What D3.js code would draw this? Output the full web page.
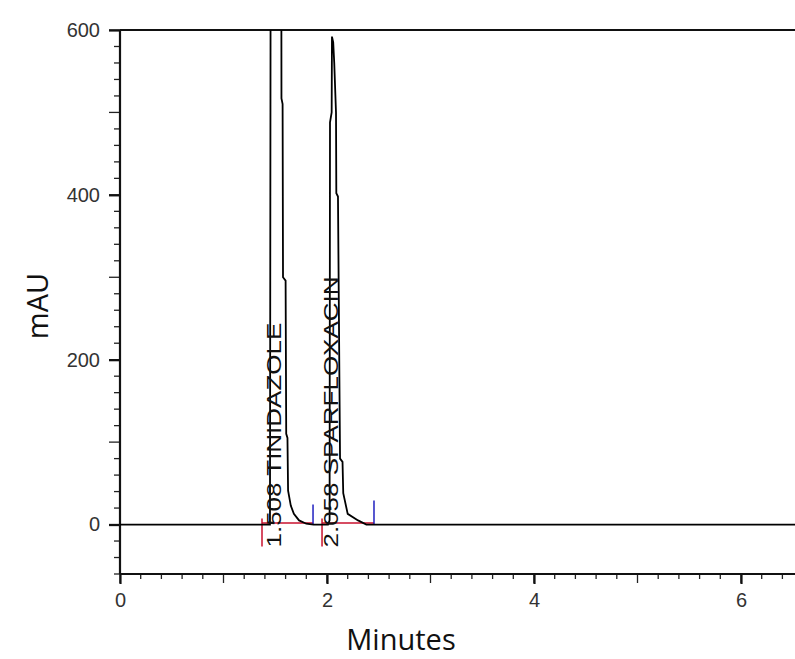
<!DOCTYPE html>
<html>
<head>
<meta charset="utf-8">
<script src="https://cdn.jsdelivr.net/npm/d3@7"></script>
<style>
  body { margin: 0; background: #fff; }
</style>
</head>
<body>
<div id="chart"></div>
<script>
// chromatogram trace (minutes, mAU)
var traceTime = [0, 1.449, 1.462, 1.508, 1.553, 1.560, 1.571, 1.575, 1.600, 1.606, 1.618, 1.624, 1.65, 1.68, 1.73, 1.80, 1.87,
  2.010, 2.025, 2.029, 2.045, 2.048, 2.060, 2.070, 2.087, 2.090, 2.106, 2.126, 2.150, 2.157, 2.20, 2.30, 2.38, 6.6];
var traceMAU = [0, 0, 1400, 2000, 1400, 517, 510, 300, 296, 110, 105, 41, 23, 13, 5, 1, 0,
  0, 5, 488, 500, 592, 585, 560, 500, 402, 398, 80, 76, 38, 13, 5, 0, 0];

// peak annotations
var peakNames = ["TINIDAZOLE", "SPARFLOXACIN"];
var peakRT = [1.508, 2.058];
var peakStart = [1.372, 1.952];
var peakEnd = [1.865, 2.454];

// axis ticks
var yTicks = [0, 200, 400, 600];
var xTicks = [0, 2, 4, 6];

var svgWidth = 795;
var svgHeight = 659;

var svg = d3.select("#chart")
  .append("svg")
  .attr("width", svgWidth)
  .attr("height", svgHeight);

var x = d3.scaleLinear().domain([0, 6.6]).range([120, 120 + 103.5 * 6.6]);
var y = d3.scaleLinear().domain([-60, 600]).range([574, 30]);

// clip for the trace
svg.append("clipPath").attr("id", "plot")
  .append("rect")
  .attr("x", x(0)).attr("y", y(600))
  .attr("width", x(6.6) - x(0)).attr("height", y(-60) - y(600));

// minor ticks
var yMinor = d3.range(-60, 601, 20);
var xMinor = d3.range(0, 6.61, 0.2);

svg.append("g").selectAll("line")
  .data(yMinor)
  .enter().append("line")
  .attr("x1", d => (Math.round(d) % 100 === 0) ? x(0) - 11 : x(0) - 6)
  .attr("x2", x(0))
  .attr("y1", d => y(d)).attr("y2", d => y(d))
  .attr("stroke", "#222").attr("stroke-width", 1.3);

svg.append("g").selectAll("line")
  .data(xMinor)
  .enter().append("line")
  .attr("x1", d => x(d)).attr("x2", d => x(d))
  .attr("y1", y(-60))
  .attr("y2", d => (Math.abs(d - Math.round(d)) < 0.01) ? y(-60) + 9 : y(-60) + 5)
  .attr("stroke", "#222").attr("stroke-width", 1.3);

// axes with labels
var leftAxis = d3.axisLeft(y).tickValues(yTicks).tickSize(11).tickPadding(9);
var bottomAxis = d3.axisBottom(x).tickValues(xTicks).tickFormat(d3.format("d")).tickSize(10).tickPadding(9);

var yAxis = svg.append("g")
  .attr("transform", `translate(${x(0)}, 0)`)
  .call(leftAxis);

var xAxis = svg.append("g")
  .attr("transform", `translate(0, ${y(-60)})`)
  .call(bottomAxis);

[yAxis, xAxis].forEach(function(a) {
  a.select(".domain").remove();
  a.selectAll("line").attr("stroke", "#111").attr("stroke-width", 2.2);
  a.selectAll("text")
    .attr("fill", "#333")
    .style("font-family", "Liberation Sans, Arial, sans-serif")
    .style("font-size", "20px");
});

// axis lines and top frame
svg.append("line")
  .attr("x1", x(0)).attr("x2", x(0))
  .attr("y1", y(600)).attr("y2", y(-60))
  .attr("stroke", "#111").attr("stroke-width", 2.2);
svg.append("line")
  .attr("x1", x(0)).attr("x2", svgWidth)
  .attr("y1", y(-60)).attr("y2", y(-60))
  .attr("stroke", "#111").attr("stroke-width", 2.2);
svg.append("line")
  .attr("x1", x(0)).attr("x2", svgWidth)
  .attr("y1", y(600)).attr("y2", y(600))
  .attr("stroke", "#111").attr("stroke-width", 2.2);

// integration baselines (red) and peak marks
svg.append("g").selectAll("line")
  .data(peakStart)
  .enter().append("line")
  .attr("x1", (d, i) => x(d)).attr("x2", (d, i) => x(peakEnd[i]))
  .attr("y1", y(2)).attr("y2", y(2))
  .attr("stroke", "#c8102e").attr("stroke-width", 1.5);

svg.append("g").selectAll("line")
  .data(peakStart)
  .enter().append("line")
  .attr("x1", d => x(d)).attr("x2", d => x(d))
  .attr("y1", y(0) - 6).attr("y2", y(0) + 22)
  .attr("stroke", "#c8102e").attr("stroke-width", 1.5);

svg.append("g").selectAll("line")
  .data(peakEnd)
  .enter().append("line")
  .attr("x1", d => x(d)).attr("x2", d => x(d))
  .attr("y1", (d, i) => y(0) - (i === 0 ? 20 : 24)).attr("y2", y(0))
  .attr("stroke", "#2020c0").attr("stroke-width", 1.5);

// the trace
var traceData = traceTime.map((t, i) => ({ t: t, v: traceMAU[i] }));
var line = d3.line().x(d => x(d.t)).y(d => y(d.v));

svg.append("path")
  .datum(traceData)
  .attr("clip-path", "url(#plot)")
  .attr("d", line)
  .attr("fill", "none")
  .attr("stroke", "#000")
  .attr("stroke-width", 1.8);

// peak labels
svg.append("g").selectAll("text")
  .data(peakRT)
  .enter().append("text")
  .attr("transform", d => `translate(${x(d) + 5}, ${y(0) + 23}) rotate(-90) scale(1.3, 1)`)
  .style("font-family", "Liberation Sans, Arial, sans-serif")
  .style("font-size", "20px")
  .attr("fill", "#111")
  .text((d, i) => d.toFixed(3) + " " + peakNames[i]);

// axis titles
svg.append("text")
  .attr("transform", `translate(48, ${(y(600) + y(-60)) / 2 + 4}) rotate(-90)`)
  .attr("text-anchor", "middle")
  .style("font-family", "Open Sans, sans-serif")
  .style("font-size", "29px")
  .attr("fill", "#111")
  .text("mAU");

svg.append("text")
  .attr("x", 401)
  .attr("y", 650)
  .attr("text-anchor", "middle")
  .style("font-family", "Open Sans, sans-serif")
  .style("font-size", "29px")
  .attr("fill", "#111")
  .text("Minutes");
</script>
</body>
</html>
